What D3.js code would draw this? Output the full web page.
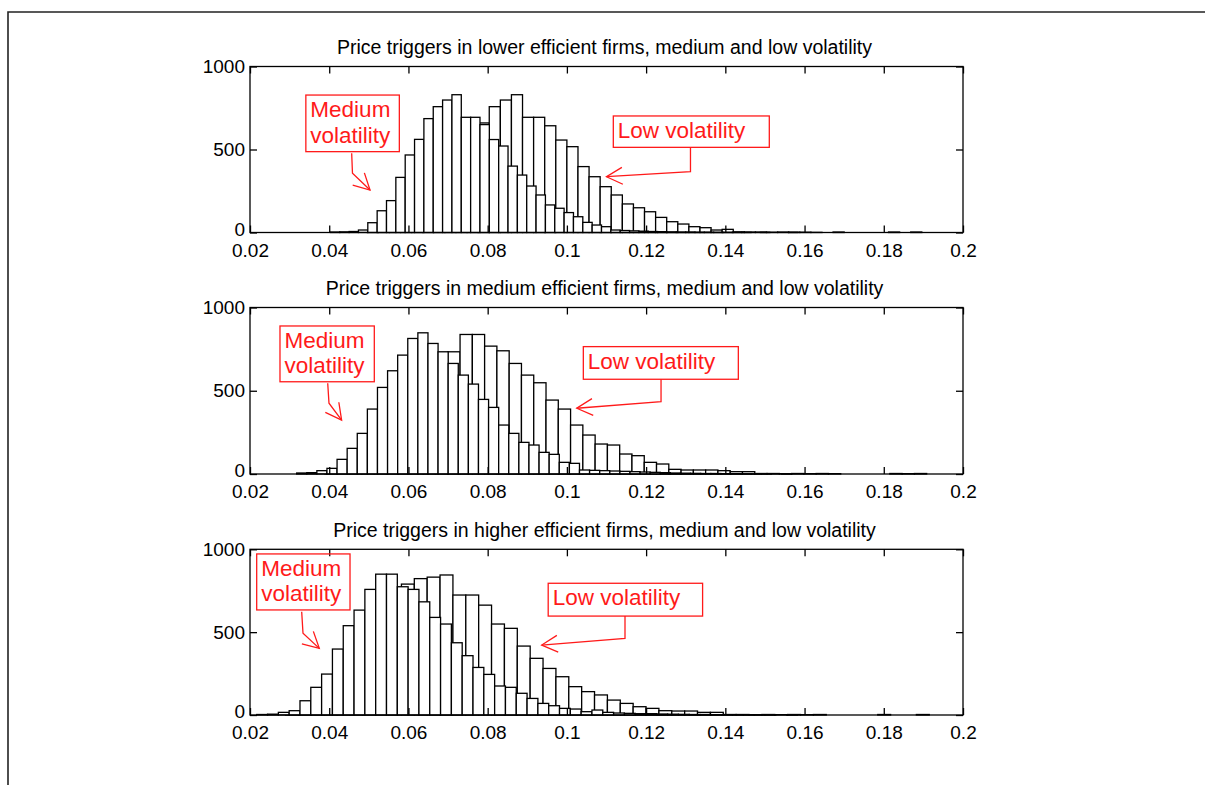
<!DOCTYPE html>
<html><head><meta charset="utf-8">
<script src="https://cdn.jsdelivr.net/npm/d3@7"></script>
<style>
body{margin:0;background:#fff}
svg{display:block}
text{font-family:"Liberation Sans",Arial,Helvetica,sans-serif}
</style>
</head><body>
<svg id="c" width="1205" height="785"></svg>
<script>
// ---------- data ----------
const xTicks = [0.02,0.04,0.06,0.08,0.1,0.12,0.14,0.16,0.18,0.2];
const xTickLabels = ["0.02","0.04","0.06","0.08","0.1","0.12","0.14","0.16","0.18","0.2"];
const yTicks = [0,500,1000];
const yTickLabels = ["0","500","1000"];

const titles = [
  "Price triggers in lower efficient firms, medium and low volatility",
  "Price triggers in medium efficient firms, medium and low volatility",
  "Price triggers in higher efficient firms, medium and low volatility"
];

// bin start / bin width for each panel (medium volatility, low volatility)
const medStart = [0.0403, 0.03178, 0.0217];
const medWidth = [0.00236, 0.00255, 0.00273];
const lowStart = [0.0496, 0.03893, 0.02898];
const lowWidth = [0.0028, 0.0031, 0.00325];

const medCounts1 = [3,4,6,15,59,131,192,332,467,561,686,758,798,830,694,694,650,560,521,400,346,280,226,166,146,120,95,61,45,35,15,12,10,8,6,5,4,3,3,2,2,1,1,1,1,0,1,0,0,1];
const lowCounts1 = [2,5,12,25,50,90,160,260,380,520,660,758,798,830,694,694,643,557,517,397,336,276,226,172,149,125,91,65,51,35,29,15,19,4,3,3,2,3,2,2,1,0,3,0,0,0,0,3,0,3];

const medCounts2 = [6,8,20,34,88,154,244,390,520,620,714,814,848,784,734,664,594,540,448,400,294,244,190,174,130,118,70,64,24,22,20,18,16,14,12,10,8,6,5,4,3,3,2,2,1,1,1,0,1,0];
const lowCounts2 = [4,10,25,50,90,150,230,340,480,620,734,838,838,768,740,664,594,548,444,390,294,234,180,174,120,110,70,60,28,24,24,24,20,14,14,3,3,2,3,2,3,2,0,0,0,0,3,2,3,0];

const medCounts3 = [3,5,16,26,86,167,247,398,539,633,758,850,850,774,758,683,589,549,436,358,287,245,175,167,131,100,70,56,40,36,20,30,16,12,10,8,8,6,5,4,3,3,2,2,2,1,1,1,0,1];
const lowCounts3 = [5,15,40,85,150,240,360,500,650,790,823,832,845,724,724,663,549,523,416,342,281,231,171,141,121,90,70,50,40,26,24,24,16,16,3,3,2,3,2,3,2,3,0,0,0,0,3,0,0,3];

const medCounts = [medCounts1, medCounts2, medCounts3];
const lowCounts = [lowCounts1, lowCounts2, lowCounts3];

// annotation text and anchor points (data coordinates)
const medLabel = ["Medium","volatility"];
const lowLabel = ["Low volatility"];
const medBoxes = [[0.0341,0.0577,828,487],[0.02757,0.05138,889,554],[0.02169,0.04525,972,634]];
const medArrows = [
  [[0.04567,477],[0.04587,357],[0.0503,256]],
  [[0.03962,545],[0.03994,425],[0.04313,324]],
  [[0.03305,623],[0.03338,493],[0.03749,402]]
];
const lowBoxes = [[0.11172,0.1511,702,513],[0.10415,0.14328,765,569],[0.09528,0.13426,795,597]];
const lowArrows = [
  [[0.1312,513],[0.1312,366],[0.1100,336]],
  [[0.12377,569],[0.12377,434],[0.10249,395]],
  [[0.11467,597],[0.11467,463],[0.09364,422]]
];

// ---------- layout ----------
const plotLeft = 250, plotRight = 963;
const panelTops = [66.5, 307.5, 549.3];
const panelBottoms = [232.5, 474, 715];
const red = "#ff1a1a";
const fontTick = 19, fontTitle = 19.5, fontNote = 22.5;

const svg = d3.select("#c");
svg.append("rect").attr("width",1205).attr("height",785).attr("fill","#fff");
// outer frame (top & left edges)
svg.append("path").attr("d","M8,785 L8,12 L1205,12").attr("fill","none")
   .attr("stroke","#222").attr("stroke-width",1.6);

for (let p = 0; p < 3; p++) {
  const x = d3.scaleLinear().domain([0.02,0.2]).range([plotLeft, plotRight]);
  const y = d3.scaleLinear().domain([0,1000]).range([panelBottoms[p], panelTops[p]]);
  const g = svg.append("g");

  const drawHist = (start, w, counts) => {
    g.append("g").selectAll("rect").data(counts).join("rect")
      .attr("x", (d,i) => x(start + i*w))
      .attr("width", (d,i) => x(start + (i+1)*w) - x(start + i*w))
      .attr("y", d => y(d))
      .attr("height", d => y(0) - y(d))
      .attr("fill","#fff").attr("stroke","#000").attr("stroke-width",1.3);
  };
  drawHist(lowStart[p], lowWidth[p], lowCounts[p]);
  drawHist(medStart[p], medWidth[p], medCounts[p]);

  // axes box
  g.append("rect").attr("x",plotLeft).attr("y",panelTops[p])
    .attr("width",plotRight-plotLeft).attr("height",panelBottoms[p]-panelTops[p])
    .attr("fill","none").attr("stroke","#000").attr("stroke-width",1.3);

  const tl = 7;
  const xb = d3.axisBottom(x).tickValues(xTicks).tickFormat((d,i)=>xTickLabels[i])
      .tickSizeInner(-tl).tickSizeOuter(0).tickPadding(11);
  const ax = g.append("g").attr("transform",`translate(0,${panelBottoms[p]})`).call(xb);
  const xt = d3.axisTop(x).tickValues(xTicks).tickFormat("").tickSizeInner(-tl).tickSizeOuter(0);
  const ax2 = g.append("g").attr("transform",`translate(0,${panelTops[p]})`).call(xt);
  const yl = d3.axisLeft(y).tickValues(yTicks).tickFormat((d,i)=>yTickLabels[i])
      .tickSizeInner(-tl).tickSizeOuter(0).tickPadding(5);
  const ay = g.append("g").attr("transform",`translate(${plotLeft},0)`).call(yl);
  const yr = d3.axisRight(y).tickValues(yTicks).tickFormat("").tickSizeInner(-tl).tickSizeOuter(0);
  const ay2 = g.append("g").attr("transform",`translate(${plotRight},0)`).call(yr);
  [ax,ax2,ay,ay2].forEach(a => {
    a.select(".domain").remove();
    a.selectAll("line").attr("stroke","#000").attr("stroke-width",1.3);
    a.selectAll("text").attr("font-size",fontTick).attr("fill","#000")
      .attr("font-family",'"Liberation Sans",Arial,sans-serif');
  });
  // lift the "0" y label slightly so it clears the first x label
  ay.selectAll("text").filter((d,i)=>i===0).attr("dy","0.15em");

  // title
  g.append("text").attr("x",(plotLeft+plotRight)/2 - 2).attr("y",panelTops[p]-12.5)
    .attr("text-anchor","middle").attr("font-size",fontTitle).attr("fill","#000")
    .text(titles[p]);

  // annotations
  const drawNote = (box, lines, arrow) => {
    const bx0 = x(box[0]), bx1 = x(box[1]), by0 = y(box[2]), by1 = y(box[3]);
    g.append("rect").attr("x",bx0).attr("y",by0).attr("width",bx1-bx0).attr("height",by1-by0)
      .attr("fill","none").attr("stroke",red).attr("stroke-width",1.3);
    lines.forEach((t,i) => {
      g.append("text").attr("x",bx0+4.5).attr("y",by0+22+i*25.5)
        .attr("font-size",fontNote).attr("fill",red).text(t);
    });
    const pts = arrow.map(d => [x(d[0]), y(d[1])]);
    g.append("path").attr("d", d3.line()(pts)).attr("fill","none")
      .attr("stroke",red).attr("stroke-width",1.3);
    const tip = pts[pts.length-1], prev = pts[pts.length-2];
    const ang = Math.atan2(prev[1]-tip[1], prev[0]-tip[0]);
    const L = 18, h = 28*Math.PI/180;
    const a1 = [tip[0]+L*Math.cos(ang+h), tip[1]+L*Math.sin(ang+h)];
    const a2 = [tip[0]+L*Math.cos(ang-h), tip[1]+L*Math.sin(ang-h)];
    g.append("path").attr("d", d3.line()([a1,tip,a2])).attr("fill","none")
      .attr("stroke",red).attr("stroke-width",1.3);
  };
  drawNote(medBoxes[p], medLabel, medArrows[p]);
  drawNote(lowBoxes[p], lowLabel, lowArrows[p]);
}
</script>
</body></html>
